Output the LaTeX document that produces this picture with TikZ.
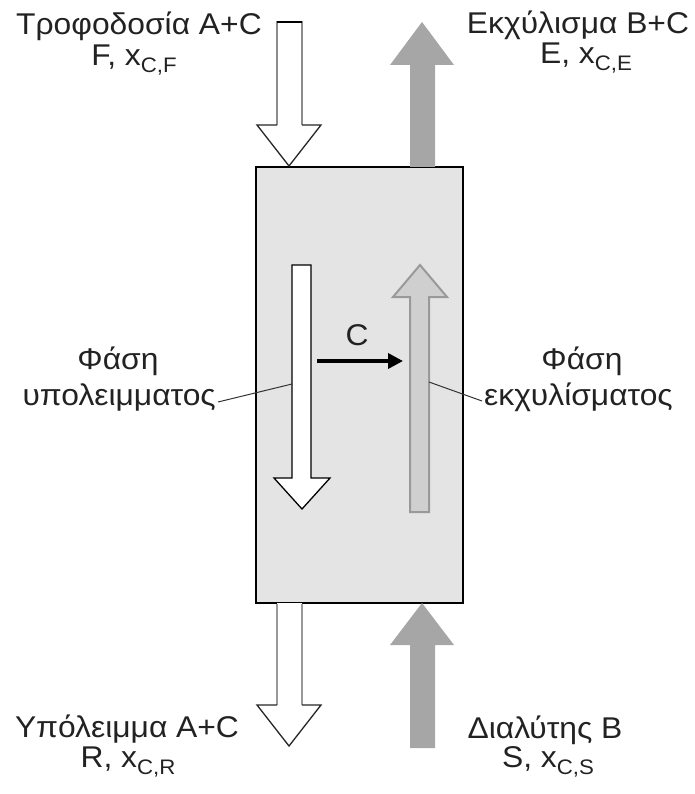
\documentclass[tikz,border=0pt]{standalone}
\usepackage{fontspec}
\setmainfont[FakeStretch=1.06]{Liberation Sans}
\usetikzlibrary{arrows.meta}
\definecolor{boxgray}{HTML}{E4E4E4}
\definecolor{darkarrow}{HTML}{A6A6A6}
\definecolor{lightarrow}{HTML}{CFCFCF}
\definecolor{edgegray}{HTML}{999999}
\definecolor{txt}{HTML}{222222}
\newcommand{\mysubs}[1]{\raisebox{-7pt}{\fontsize{21}{21}\selectfont #1}}
\begin{document}
\begin{tikzpicture}[x=1pt,y=-1pt,
  lbl/.style={anchor=base,inner sep=0pt,text=txt,font=\fontsize{30}{32}\selectfont},
  column/.style={draw=black,line width=1.5pt,fill=boxgray},
  whitearrow/.style={fill=white,draw=black,line width=1.3pt,line join=miter},
  grayarrow/.style={fill=darkarrow,draw=none},
  innergray/.style={fill=lightarrow,draw=edgegray,line width=2pt,line join=miter},
  leader/.style={draw=black!80,line width=1pt},
  transfer/.style={draw=black,line width=3.5pt,-{Triangle[length=15pt,width=15pt]}}]
\useasboundingbox (0,0) rectangle (694,794);

% column
\draw[column] (256,167) rectangle (463,603);
\node[inner sep=0pt,minimum width=207pt,minimum height=436pt] (col) at (359.5,385) {};

% feed arrow (top left)
\fill[white] (277,22) -- (302,22) -- (302,125) -- (321,125) -- (289,166) -- (257,125) -- (277,125) -- cycle;
\draw[draw=black!45,line width=1.3pt] (277,125) -- (277,22) -- (302,22) -- (302,125);
\draw[draw=black,line width=1.3pt] (277,22) -- (302,22);
\draw[draw=black!85,line width=1.3pt,line join=miter] (302,125) -- (321,125) -- (289,166) -- (257,125) -- (277,125);

% extract arrow (top right)
\fill[grayarrow] (410,167) -- (410,65) -- (390,65) -- (422,22) -- (454,65) -- (435,65) -- (435,167) -- cycle;

% raffinate arrow (bottom left)
\fill[white] (277,603) -- (302,603) -- (302,705) -- (321,705) -- (289,746) -- (257,705) -- (277,705) -- cycle;
\draw[draw=black!40,line width=1.3pt] (277,604) -- (277,705);
\draw[draw=black!40,line width=1.3pt] (302,604) -- (302,705);
\draw[draw=black!85,line width=1.3pt,line join=miter] (302,705) -- (321,705) -- (289,746) -- (257,705) -- (277,705);

% solvent arrow (bottom right)
\fill[grayarrow] (410,748) -- (410,645) -- (390,645) -- (422,603) -- (454,645) -- (435,645) -- (435,748) -- cycle;

% inner raffinate phase arrow
\draw[whitearrow] (292,265) -- (311,265) -- (311,478) -- (330,478) -- (302,509) -- (274,478) -- (292,478) -- cycle;

% inner extract phase arrow
\draw[innergray] (410,512) -- (410,297) -- (393,297) -- (420,265) -- (447,297) -- (429,297) -- (429,512) -- cycle;

% transfer of C
\coordinate (cfrom) at (317,361);
\coordinate (cto) at (403,361);
\draw[transfer] (cfrom) -- (cto);
\node[lbl] (clbl) at (357,345) {C};

% labels
\node[lbl] (feed1) at (139,35) {Τροφοδοσία A+C};
\node[lbl] (feed2) at (134,66) {F, x\mysubs{C,F}};
\node[lbl] (ext1) at (578,34) {Εκχύλισμα B+C};
\node[lbl] (ext2) at (586,64) {E, x\mysubs{C,E}};
\node[lbl] (phL1) at (118,369) {Φάση};
\node[lbl,anchor=base east] (phL2) at (216,405) {υπολειμματος};
\node[lbl] (phR1) at (582,369) {Φάση};
\node[lbl,anchor=base west] (phR2) at (484,405) {εκχυλίσματος};
\node[lbl] (raf1) at (127,737) {Υπόλειμμα A+C};
\node[lbl] (raf2) at (128,767) {R, x\mysubs{C,R}};
\node[lbl] (sol1) at (545,738) {Διαλύτης B};
\node[lbl] (sol2) at (548,767) {S, x\mysubs{C,S}};

% leader lines
\coordinate (lL) at (292,384);
\coordinate (lR) at (429,382);
\draw[leader] ([xshift=2pt,yshift=3pt]phL2.base east) -- (lL);
\draw[leader] ([xshift=-2pt,yshift=4pt]phR2.base west) -- (lR);
\end{tikzpicture}
\end{document}
